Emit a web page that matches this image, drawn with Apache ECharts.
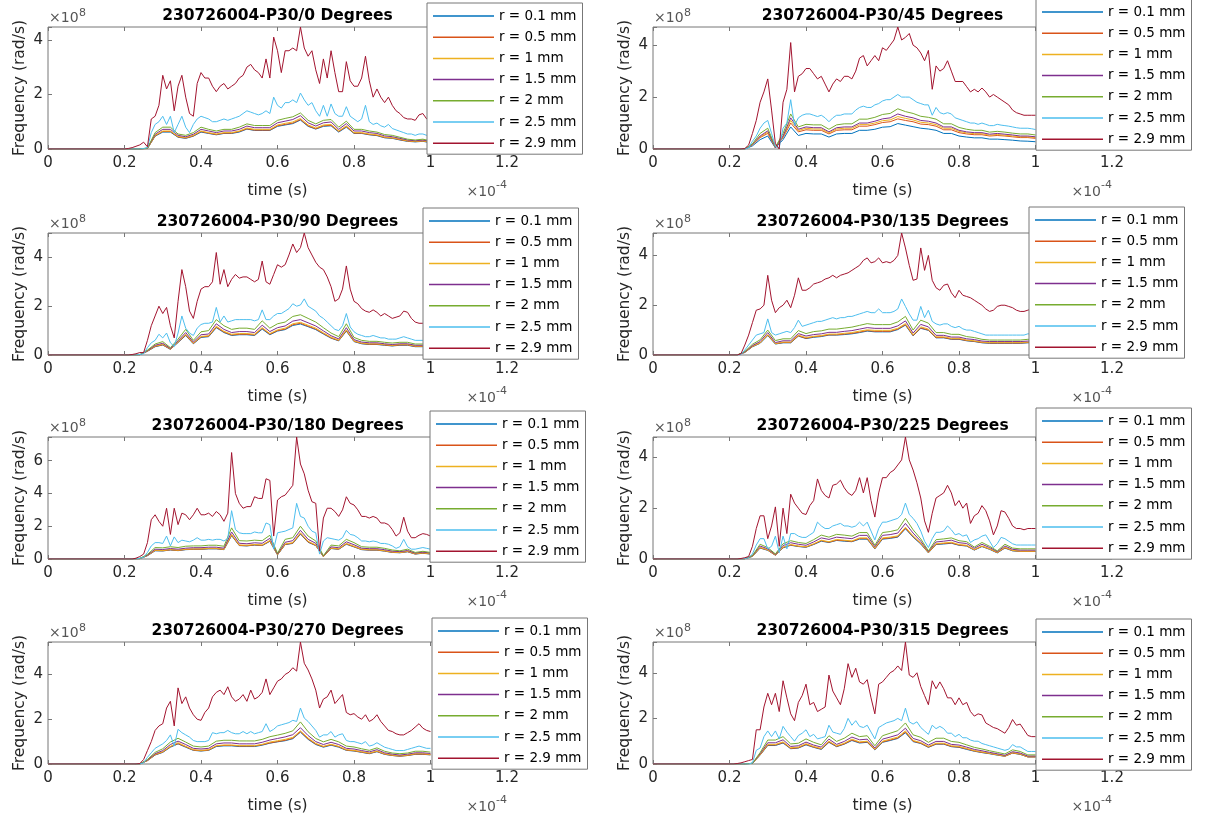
<!DOCTYPE html>
<html>
<head>
<meta charset="utf-8">
<title>230726004-P30 frequency vs time</title>
<script src="https://cdn.jsdelivr.net/npm/echarts@6.0.0/dist/echarts.min.js"></script>
<style>
  html, body { margin: 0; padding: 0; background: #fff; }
  #chart { width: 1215px; height: 820px; }
</style>
</head>
<body>
<div id="chart"></div>
<script>
// time in units of 1e-4 s
const TIME_FINE = [0,
  0.20, 0.21, 0.22, 0.23, 0.24, 0.25, 0.26, 0.27, 0.28, 0.29,
  0.30, 0.31, 0.32, 0.33, 0.34, 0.35, 0.36, 0.37, 0.38, 0.39,
  0.40, 0.41, 0.42, 0.43, 0.44, 0.45, 0.46, 0.47, 0.48, 0.49,
  0.50, 0.51, 0.52, 0.53, 0.54, 0.55, 0.56, 0.57, 0.58, 0.59,
  0.60, 0.61, 0.62, 0.63, 0.64, 0.65, 0.66, 0.67, 0.68, 0.69,
  0.70, 0.71, 0.72, 0.73, 0.74, 0.75, 0.76, 0.77, 0.78, 0.79,
  0.80, 0.81, 0.82, 0.83, 0.84, 0.85, 0.86, 0.87, 0.88, 0.89,
  0.90, 0.91, 0.92, 0.93, 0.94, 0.95, 0.96, 0.97, 0.98, 0.99,
  1.00];
const TIME_COARSE = [0,
  0.20, 0.22, 0.24, 0.26, 0.28,
  0.30, 0.32, 0.34, 0.36, 0.38,
  0.40, 0.42, 0.44, 0.46, 0.48,
  0.50, 0.52, 0.54, 0.56, 0.58,
  0.60, 0.62, 0.64, 0.66, 0.68,
  0.70, 0.72, 0.74, 0.76, 0.78,
  0.80, 0.82, 0.84, 0.86, 0.88,
  0.90, 0.92, 0.94, 0.96, 0.98,
  1.00];

const RADII = ['r = 0.1 mm', 'r = 0.5 mm', 'r = 1 mm', 'r = 1.5 mm', 'r = 2 mm', 'r = 2.5 mm', 'r = 2.9 mm'];
const COLORS = ['#0072BD', '#D95319', '#EDB120', '#7E2F8E', '#77AC30', '#4DBEEE', '#A2142F'];
const ANGLES = [0, 45, 90, 135, 180, 225, 270, 315];
const Y_MAX = [4.47, 4.7, 5.0, 4.9, 7.45, 4.8, 5.45, 5.35];   // x 1e8 rad/s
const X_MAX = 1.2;

// ---- 0 degrees ----
const RED_0 = [0,
  0, 0.02, 0.05, 0.1, 0.15, 0.25, 0.08, 1.1, 1.2, 1.6,
  2.7, 2.2, 2.5, 1.4, 2.3, 2.7, 1.9, 1.3, 1.2, 2.4,
  2.8, 2.6, 2.6, 2.3, 2.1, 2.3, 2.4, 2.2, 2.3, 2.4,
  2.6, 2.7, 3.0, 3.1, 2.9, 2.8, 2.6, 3.3, 2.6, 4.1,
  3.6, 2.8, 3.6, 3.6, 3.7, 3.6, 4.47, 3.7, 3.4, 3.6,
  2.9, 2.4, 3.3, 2.6, 3.6, 2.8, 2.1, 2.1, 3.2, 2.5,
  2.3, 2.3, 2.6, 3.4, 2.5, 1.9, 2.2, 1.9, 1.7, 1.9,
  1.6, 1.4, 1.3, 1.15, 1.1, 1.1, 1.05, 1.25, 1.3, 1.1,
  1.0];
const CYAN_0 = [0,
  0, 0, 0, 0, 0, 0.02, 0.05, 0.6, 0.9, 1.0,
  1.2, 0.9, 1.2, 0.6, 0.9, 1.2, 0.8, 0.6, 0.9, 1.1,
  1.2, 1.15, 1.1, 1.0, 1.0, 1.05, 1.1, 1.05, 1.1, 1.15,
  1.2, 1.3, 1.4, 1.35, 1.3, 1.25, 1.3, 1.4, 1.3, 1.9,
  1.6, 1.5, 1.7, 1.7, 1.8, 1.7, 2.05, 1.8, 1.6, 1.7,
  1.4, 1.2, 1.6, 1.2, 1.65, 1.3, 1.2, 1.2, 1.55, 1.2,
  1.1, 1.0, 1.1, 1.6, 1.0, 0.9, 0.95, 0.85, 0.8, 0.9,
  0.75, 0.7, 0.65, 0.6, 0.55, 0.55, 0.5, 0.55, 0.55, 0.5,
  0.45];
const GREEN_0 = [0,
  0, 0, 0, 0.03, 0.6,
  0.8, 0.8, 0.55, 0.5, 0.6,
  0.8, 0.72, 0.66, 0.72, 0.72,
  0.8, 0.92, 0.86, 0.86, 0.86,
  1.05, 1.12, 1.18, 1.32, 1.05,
  0.92, 1.05, 1.08, 0.8, 1.02,
  0.72, 0.72, 0.66, 0.62, 0.53,
  0.5, 0.43, 0.36, 0.33, 0.36,
  0.3];
const PURPLE_0 = [0,
  0, 0, 0, 0.03, 0.54,
  0.72, 0.72, 0.5, 0.45, 0.54,
  0.72, 0.66, 0.6, 0.66, 0.66,
  0.72, 0.84, 0.78, 0.78, 0.78,
  0.96, 1.02, 1.08, 1.22, 0.96,
  0.84, 0.96, 0.99, 0.72, 0.93,
  0.66, 0.66, 0.6, 0.57, 0.48,
  0.45, 0.39, 0.33, 0.3, 0.33,
  0.27];
const YELLOW_0 = [0,
  0, 0, 0, 0.02, 0.5,
  0.66, 0.66, 0.46, 0.42, 0.5,
  0.66, 0.6, 0.55, 0.6, 0.6,
  0.66, 0.77, 0.72, 0.72, 0.72,
  0.88, 0.94, 0.99, 1.12, 0.88,
  0.77, 0.88, 0.9, 0.66, 0.85,
  0.6, 0.6, 0.55, 0.52, 0.44,
  0.41, 0.36, 0.3, 0.28, 0.3,
  0.25];
const ORANGE_0 = [0,
  0, 0, 0, 0.02, 0.48,
  0.64, 0.64, 0.44, 0.4, 0.48,
  0.64, 0.58, 0.53, 0.58, 0.58,
  0.64, 0.74, 0.69, 0.69, 0.69,
  0.85, 0.9, 0.95, 1.08, 0.85,
  0.74, 0.85, 0.87, 0.64, 0.82,
  0.58, 0.58, 0.53, 0.5, 0.42,
  0.4, 0.34, 0.29, 0.27, 0.29,
  0.24];
const BLUE_0 = [0,
  0, 0, 0, 0.02, 0.47,
  0.62, 0.62, 0.43, 0.39, 0.47,
  0.62, 0.57, 0.52, 0.57, 0.57,
  0.62, 0.73, 0.68, 0.68, 0.68,
  0.83, 0.88, 0.93, 1.06, 0.83,
  0.73, 0.83, 0.85, 0.62, 0.8,
  0.57, 0.57, 0.52, 0.49, 0.41,
  0.39, 0.33, 0.28, 0.26, 0.28,
  0.23];

// ---- 45 degrees ----
const RED_45 = [0,
  0, 0, 0, 0, 0.02, 0.15, 0.6, 1.1, 1.8, 2.2,
  2.7, 1.5, 0.2, 0.0, 1.8, 2.3, 4.1, 2.2, 2.8, 2.9,
  3.1, 3.1, 2.9, 2.7, 2.8, 2.5, 2.2, 2.5, 2.7, 2.6,
  2.8, 2.8, 2.7, 3.0, 3.5, 3.6, 3.2, 3.4, 3.6, 3.4,
  3.9, 3.8, 4.0, 4.2, 4.7, 4.2, 4.3, 4.45, 4.0, 3.9,
  3.7, 3.4, 3.8, 2.3, 3.2, 3.0, 3.1, 3.4, 3.0, 2.6,
  2.6, 2.6, 2.4, 2.2, 2.3, 2.2, 2.35, 2.2, 2.0, 2.1,
  2.0, 1.9, 1.8, 1.7, 1.5, 1.4, 1.35, 1.3, 1.3, 1.3,
  1.3];
const CYAN_45 = [0,
  0, 0, 0, 0, 0, 0.05, 0.3, 0.5, 0.8, 1.0,
  1.1, 0.6, 0.1, 0.05, 0.8, 1.0, 1.9, 0.9, 1.2, 1.3,
  1.35, 1.35, 1.3, 1.25, 1.3, 1.2, 1.05, 1.2, 1.3, 1.3,
  1.35, 1.35, 1.35, 1.5, 1.6, 1.65, 1.6, 1.6, 1.7, 1.75,
  1.85, 1.9, 1.9, 2.0, 2.1, 2.0, 2.0, 2.0, 1.9, 1.8,
  1.75, 1.7, 1.7, 1.3, 1.6, 1.4, 1.35, 1.4, 1.35, 1.2,
  1.15, 1.1, 1.05, 1.0, 1.0, 0.95, 1.0, 0.95, 0.9, 0.9,
  0.95, 0.92, 0.9, 0.88, 0.85, 0.82, 0.8, 0.8, 0.8, 0.78,
  0.75];
const GREEN_45 = [0,
  0, 0, 0, 0.2, 0.6,
  0.8, 0.08, 0.6, 1.35, 0.85,
  0.95, 0.93, 0.93, 0.76, 0.93,
  0.97, 0.97, 1.15, 1.15, 1.22,
  1.33, 1.37, 1.55, 1.44, 1.37,
  1.26, 1.22, 1.15, 0.97, 0.97,
  0.83, 0.76, 0.72, 0.72, 0.65,
  0.68, 0.65, 0.61, 0.58, 0.58,
  0.54];
const PURPLE_45 = [0,
  0, 0, 0, 0.18, 0.5,
  0.7, 0.06, 0.5, 1.2, 0.76,
  0.85, 0.82, 0.82, 0.66, 0.82,
  0.85, 0.85, 1.0, 1.0, 1.07,
  1.16, 1.2, 1.35, 1.26, 1.2,
  1.1, 1.07, 1.0, 0.85, 0.85,
  0.72, 0.66, 0.63, 0.63, 0.57,
  0.6, 0.57, 0.54, 0.5, 0.5,
  0.47];
const YELLOW_45 = [0,
  0, 0, 0, 0.17, 0.47,
  0.65, 0.06, 0.47, 1.1, 0.71,
  0.8, 0.77, 0.77, 0.62, 0.77,
  0.8, 0.8, 0.94, 0.94, 1.0,
  1.09, 1.12, 1.25, 1.18, 1.12,
  1.03, 1.0, 0.94, 0.8, 0.8,
  0.68, 0.62, 0.59, 0.59, 0.53,
  0.56, 0.53, 0.5, 0.47, 0.47,
  0.44];
const ORANGE_45 = [0,
  0, 0, 0, 0.16, 0.44,
  0.6, 0.05, 0.44, 1.0, 0.66,
  0.74, 0.72, 0.72, 0.58, 0.72,
  0.74, 0.74, 0.88, 0.88, 0.94,
  1.02, 1.05, 1.16, 1.1, 1.05,
  0.96, 0.94, 0.88, 0.74, 0.74,
  0.63, 0.58, 0.55, 0.55, 0.5,
  0.52, 0.5, 0.47, 0.44, 0.44,
  0.41];
const BLUE_45 = [0,
  0, 0, 0, 0.12, 0.36,
  0.5, 0.04, 0.36, 0.85, 0.52,
  0.6, 0.58, 0.58, 0.46, 0.58,
  0.6, 0.6, 0.72, 0.72, 0.76,
  0.84, 0.86, 0.98, 0.92, 0.86,
  0.8, 0.77, 0.72, 0.6, 0.6,
  0.5, 0.46, 0.43, 0.43, 0.38,
  0.38, 0.36, 0.34, 0.31, 0.3,
  0.28];

// ---- 90 degrees ----
const RED_90 = [0,
  0, 0, 0.02, 0.05, 0.1, 0.1, 0.6, 1.2, 1.6, 2.0,
  1.7, 1.95, 1.2, 0.7, 2.2, 3.5, 2.8, 1.8, 1.5, 2.2,
  2.7, 2.8, 2.8, 3.0, 4.2, 2.9, 3.5, 2.8, 3.1, 3.3,
  3.15, 3.2, 3.2, 3.1, 3.0, 3.1, 3.85, 3.0, 2.9, 3.3,
  3.7, 3.6, 3.7, 4.1, 4.55, 4.2, 4.4, 5.0, 4.4, 4.1,
  3.8, 3.6, 3.5, 3.2, 2.8, 2.2, 2.3, 2.7, 3.65, 2.7,
  2.2, 2.1, 1.9, 1.8, 1.75, 1.85, 1.75, 1.6, 1.7, 1.6,
  1.5, 1.55, 1.6, 1.8, 1.75, 1.5, 1.35, 1.3, 1.3, 1.3,
  1.25];
const CYAN_90 = [0,
  0, 0, 0, 0, 0.02, 0.05, 0.3, 0.5, 0.6, 0.85,
  0.7, 0.9, 0.5, 0.35, 0.9, 1.6, 1.1, 0.9, 0.8, 1.1,
  1.25, 1.3, 1.3, 1.35, 1.95, 1.35, 1.6, 1.35, 1.4, 1.45,
  1.45, 1.45, 1.45, 1.45, 1.4, 1.45, 1.85, 1.45, 1.45, 1.6,
  1.7, 1.7, 1.8, 1.9, 2.1, 2.0, 2.05, 2.3, 2.0, 1.9,
  1.8, 1.6, 1.5, 1.35, 1.2, 1.05, 1.0, 1.2, 1.7, 1.15,
  0.95, 0.85, 0.8, 0.75, 0.75, 0.8, 0.75, 0.7, 0.7, 0.65,
  0.65, 0.65, 0.7, 0.75, 0.7, 0.65, 0.6, 0.6, 0.6, 0.6,
  0.6];
const GREEN_90 = [0,
  0, 0, 0.01, 0.2, 0.45,
  0.55, 0.3, 0.65, 1.05, 0.6,
  0.95, 1.0, 1.45, 1.2, 1.05,
  1.1, 1.1, 1.05, 1.4, 1.1,
  1.28, 1.35, 1.58, 1.65, 1.5,
  1.35, 1.12, 0.9, 0.75, 1.28,
  0.72, 0.6, 0.56, 0.56, 0.52,
  0.49, 0.52, 0.52, 0.45, 0.45,
  0.45];
const PURPLE_90 = [0,
  0, 0, 0.01, 0.18, 0.4,
  0.48, 0.27, 0.58, 0.92, 0.53,
  0.83, 0.86, 1.28, 1.05, 0.92,
  0.96, 0.96, 0.92, 1.22, 0.96,
  1.12, 1.19, 1.39, 1.45, 1.32,
  1.19, 0.99, 0.79, 0.66, 1.12,
  0.63, 0.53, 0.5, 0.5, 0.46,
  0.43, 0.46, 0.46, 0.4, 0.4,
  0.4];
const YELLOW_90 = [0,
  0, 0, 0.01, 0.17, 0.37,
  0.44, 0.25, 0.54, 0.85, 0.49,
  0.76, 0.79, 1.18, 0.97, 0.85,
  0.88, 0.88, 0.85, 1.12, 0.88,
  1.03, 1.1, 1.28, 1.34, 1.22,
  1.1, 0.91, 0.73, 0.61, 1.03,
  0.58, 0.49, 0.46, 0.46, 0.43,
  0.4, 0.43, 0.43, 0.37, 0.37,
  0.37];
const ORANGE_90 = [0,
  0, 0, 0.01, 0.16, 0.35,
  0.42, 0.24, 0.52, 0.82, 0.47,
  0.74, 0.77, 1.14, 0.94, 0.82,
  0.85, 0.85, 0.82, 1.09, 0.85,
  1.0, 1.06, 1.24, 1.3, 1.18,
  1.06, 0.88, 0.7, 0.59, 1.0,
  0.56, 0.47, 0.44, 0.44, 0.41,
  0.38, 0.41, 0.41, 0.35, 0.35,
  0.35];
const BLUE_90 = [0,
  0, 0, 0.01, 0.15, 0.34,
  0.41, 0.23, 0.51, 0.8, 0.46,
  0.72, 0.75, 1.12, 0.92, 0.8,
  0.83, 0.83, 0.8, 1.06, 0.83,
  0.98, 1.04, 1.21, 1.27, 1.16,
  1.04, 0.86, 0.69, 0.58, 0.98,
  0.55, 0.46, 0.43, 0.43, 0.4,
  0.37, 0.4, 0.4, 0.34, 0.34,
  0.34];

// ---- 135 degrees ----
const RED_135 = [0,
  0, 0, 0, 0.05, 0.4, 0.8, 1.3, 1.8, 1.85, 2.0,
  3.2, 2.2, 1.7, 1.9, 2.0, 2.2, 1.9, 2.4, 3.1, 2.6,
  2.6, 2.7, 2.85, 2.9, 2.95, 3.05, 3.1, 3.2, 3.1, 3.2,
  3.25, 3.3, 3.4, 3.5, 3.6, 3.8, 3.9, 3.7, 3.75, 3.9,
  3.7, 3.75, 3.7, 3.8, 4.0, 4.9, 4.3, 3.6, 3.0, 3.05,
  4.3, 3.4, 4.0, 3.0, 2.7, 2.6, 2.8, 2.85, 2.5, 2.3,
  2.6, 2.4, 2.35, 2.3, 2.2, 2.1, 2.0, 1.85, 1.75, 1.8,
  1.95, 2.0, 2.0, 1.95, 1.9, 1.8, 1.75, 1.75, 1.8, 1.85,
  1.85];
const CYAN_135 = [0,
  0, 0, 0, 0.02, 0.2, 0.4, 0.6, 0.8, 0.85, 0.9,
  1.45, 0.9, 0.8, 0.85, 0.9, 0.95, 0.9, 1.1, 1.4, 1.15,
  1.2, 1.25, 1.3, 1.35, 1.35, 1.4, 1.45, 1.5, 1.45, 1.5,
  1.5, 1.55, 1.55, 1.6, 1.65, 1.7, 1.75, 1.7, 1.7, 1.85,
  1.7, 1.7, 1.7, 1.75, 1.85, 2.25, 1.95, 1.65, 1.4, 1.4,
  1.95, 1.5, 1.8, 1.35, 1.25, 1.2, 1.25, 1.25, 1.15, 1.1,
  1.15, 1.05, 1.0, 1.0, 0.95, 0.9, 0.85, 0.8, 0.8, 0.8,
  0.8, 0.8, 0.8, 0.8, 0.8, 0.8, 0.8, 0.8, 0.85, 0.85,
  0.85];
const GREEN_135 = [0,
  0, 0, 0.14, 0.43, 0.61,
  1.0, 0.58, 0.65, 0.65, 0.98,
  0.86, 0.94, 0.97, 1.04, 1.04,
  1.08, 1.12, 1.19, 1.26, 1.22,
  1.22, 1.22, 1.33, 1.55, 1.0,
  1.4, 1.28, 0.9, 0.9, 0.83,
  0.83, 0.74, 0.7, 0.63, 0.6,
  0.6, 0.6, 0.6, 0.6, 0.63,
  0.63];
const PURPLE_135 = [0,
  0, 0, 0.12, 0.38, 0.54,
  0.9, 0.5, 0.57, 0.57, 0.86,
  0.76, 0.82, 0.85, 0.91, 0.91,
  0.95, 0.98, 1.04, 1.1, 1.07,
  1.07, 1.07, 1.17, 1.37, 0.88,
  1.23, 1.13, 0.79, 0.79, 0.72,
  0.72, 0.65, 0.62, 0.56, 0.54,
  0.54, 0.54, 0.54, 0.54, 0.56,
  0.56];
const YELLOW_135 = [0,
  0, 0, 0.11, 0.35, 0.49,
  0.82, 0.46, 0.52, 0.52, 0.8,
  0.7, 0.75, 0.78, 0.84, 0.84,
  0.87, 0.9, 0.96, 1.01, 0.99,
  0.99, 0.99, 1.07, 1.26, 0.81,
  1.13, 1.04, 0.73, 0.73, 0.67,
  0.67, 0.6, 0.57, 0.52, 0.5,
  0.5, 0.5, 0.5, 0.5, 0.52,
  0.52];
const ORANGE_135 = [0,
  0, 0, 0.11, 0.34, 0.48,
  0.8, 0.45, 0.5, 0.5, 0.77,
  0.67, 0.73, 0.76, 0.81, 0.81,
  0.84, 0.87, 0.92, 0.98, 0.95,
  0.95, 0.95, 1.04, 1.22, 0.78,
  1.09, 1.0, 0.7, 0.7, 0.64,
  0.64, 0.58, 0.55, 0.5, 0.48,
  0.48, 0.48, 0.48, 0.48, 0.5,
  0.5];
const BLUE_135 = [0,
  0, 0, 0.1, 0.33, 0.47,
  0.78, 0.44, 0.49, 0.49, 0.76,
  0.66, 0.71, 0.74, 0.8, 0.8,
  0.82, 0.85, 0.9, 0.96, 0.93,
  0.93, 0.93, 1.02, 1.2, 0.77,
  1.07, 0.99, 0.69, 0.69, 0.63,
  0.63, 0.57, 0.54, 0.49, 0.47,
  0.47, 0.47, 0.47, 0.47, 0.49,
  0.49];

// ---- 180 degrees ----
const RED_180 = [0,
  0, 0, 0, 0.05, 0.15, 0.3, 1.0, 2.4, 2.7, 2.3,
  2.0, 3.1, 1.5, 3.1, 2.1, 2.8, 2.7, 2.4, 2.7, 3.1,
  2.7, 2.7, 2.8, 2.6, 2.9, 2.7, 2.3, 2.8, 6.5, 4.0,
  3.4, 3.1, 3.2, 3.2, 3.8, 3.7, 3.7, 4.9, 4.8, 1.4,
  3.6, 3.8, 3.9, 4.2, 4.5, 7.45, 5.8, 5.2, 4.2, 3.5,
  3.4, 0.5, 2.5, 3.1, 3.1, 2.9, 2.6, 3.0, 3.8, 3.4,
  3.3, 3.0, 2.6, 2.6, 2.5, 2.6, 2.5, 2.2, 2.2, 2.1,
  1.8, 1.4, 1.6, 2.55, 1.7, 1.3, 1.3, 1.45, 1.55, 1.5,
  1.4];
const CYAN_180 = [0,
  0, 0, 0, 0, 0.05, 0.1, 0.4, 0.8, 1.0, 1.0,
  0.95, 1.4, 0.8, 1.35, 1.0, 1.15, 1.1, 1.05, 1.15, 1.3,
  1.15, 1.15, 1.2, 1.15, 1.2, 1.2, 1.1, 1.25, 2.95, 1.8,
  1.6, 1.55, 1.55, 1.55, 1.65, 1.6, 1.6, 2.2, 2.1, 0.6,
  1.6, 1.65, 1.7, 1.8, 1.9, 3.4, 2.6, 2.5, 2.0, 1.7,
  1.6, 0.3, 1.1, 1.3, 1.25, 1.2, 1.15, 1.3, 1.75, 1.5,
  1.45, 1.3, 1.1, 1.1, 1.05, 1.1, 1.05, 0.95, 0.95, 0.9,
  0.8, 0.65, 0.75, 1.2, 0.75, 0.6, 0.6, 0.65, 0.7, 0.65,
  0.6];
const GREEN_180 = [0,
  0, 0, 0.03, 0.28, 0.7,
  0.68, 0.75, 0.7, 0.78, 0.8,
  0.8, 0.84, 0.84, 0.78, 1.9,
  1.12, 1.1, 1.15, 1.12, 1.45,
  0.35, 1.2, 1.3, 2.0, 1.4,
  1.1, 0.2, 0.85, 0.8, 1.2,
  1.0, 0.75, 0.72, 0.72, 0.65,
  0.55, 0.5, 0.6, 0.4, 0.47,
  0.4];
const PURPLE_180 = [0,
  0, 0, 0.03, 0.24, 0.6,
  0.58, 0.64, 0.6, 0.66, 0.69,
  0.69, 0.72, 0.72, 0.66, 1.65,
  0.96, 0.93, 0.99, 0.96, 1.26,
  0.3, 1.02, 1.12, 1.75, 1.2,
  0.96, 0.18, 0.74, 0.69, 1.05,
  0.87, 0.66, 0.63, 0.63, 0.57,
  0.48, 0.45, 0.52, 0.36, 0.42,
  0.36];
const YELLOW_180 = [0,
  0, 0, 0.02, 0.22, 0.54,
  0.52, 0.58, 0.54, 0.6, 0.62,
  0.62, 0.65, 0.65, 0.6, 1.5,
  0.86, 0.84, 0.89, 0.86, 1.13,
  0.27, 0.92, 1.0, 1.6, 1.08,
  0.86, 0.16, 0.67, 0.62, 0.95,
  0.78, 0.6, 0.57, 0.57, 0.51,
  0.43, 0.4, 0.47, 0.32, 0.38,
  0.32];
const ORANGE_180 = [0,
  0, 0, 0.02, 0.21, 0.52,
  0.5, 0.56, 0.52, 0.58, 0.6,
  0.6, 0.63, 0.63, 0.58, 1.46,
  0.83, 0.81, 0.86, 0.83, 1.1,
  0.26, 0.89, 0.97, 1.55, 1.04,
  0.83, 0.15, 0.65, 0.6, 0.92,
  0.75, 0.58, 0.55, 0.55, 0.49,
  0.41, 0.39, 0.45, 0.31, 0.36,
  0.31];
const BLUE_180 = [0,
  0, 0, 0.02, 0.2, 0.5,
  0.49, 0.55, 0.51, 0.57, 0.59,
  0.59, 0.62, 0.62, 0.57, 1.43,
  0.82, 0.8, 0.85, 0.82, 1.08,
  0.25, 0.88, 0.95, 1.52, 1.02,
  0.82, 0.14, 0.64, 0.59, 0.9,
  0.74, 0.57, 0.54, 0.54, 0.48,
  0.4, 0.38, 0.44, 0.3, 0.35,
  0.3];

// ---- 225 degrees ----
const RED_225 = [0,
  0, 0, 0, 0.02, 0.05, 0.1, 0.5, 1.2, 1.7, 1.7,
  0.8, 1.3, 2.05, 0.5, 2.0, 1.0, 2.55, 2.2, 2.0, 1.8,
  1.75, 2.1, 2.3, 3.15, 2.7, 2.5, 2.4, 2.9, 2.95, 3.1,
  2.8, 2.6, 2.5, 2.7, 3.2, 2.6, 3.2, 2.3, 1.65, 2.6,
  3.2, 3.2, 3.4, 3.5, 3.7, 3.9, 4.8, 3.9, 3.5, 3.0,
  2.4, 1.5, 1.05, 1.8, 2.4, 2.5, 2.6, 2.9, 2.6, 2.1,
  2.3, 2.0, 2.2, 1.4, 1.7, 1.8, 2.1, 1.9, 1.5, 0.95,
  1.3, 1.9, 1.85, 1.6, 1.3, 1.2, 1.2, 1.15, 1.2, 1.2,
  1.2];
const CYAN_225 = [0,
  0, 0, 0, 0, 0.02, 0.05, 0.2, 0.55, 0.8, 0.8,
  0.4, 0.5, 0.9, 0.25, 0.9, 0.4, 1.0, 1.0, 0.9, 0.85,
  0.85, 0.95, 1.05, 1.45, 1.3, 1.2, 1.2, 1.3, 1.35, 1.4,
  1.3, 1.3, 1.25, 1.3, 1.45, 1.3, 1.45, 1.1, 0.75, 1.2,
  1.45, 1.45, 1.5, 1.55, 1.6, 1.75, 2.2, 1.75, 1.6, 1.4,
  1.1, 0.7, 0.45, 0.8, 1.05, 1.05, 1.1, 1.3, 1.15, 0.95,
  1.0, 0.9, 0.95, 0.65, 0.75, 0.8, 0.9, 0.95, 0.7, 0.45,
  0.6, 0.85, 0.8, 0.7, 0.6, 0.55, 0.55, 0.55, 0.55, 0.55,
  0.55];
const GREEN_225 = [0,
  0, 0, 0.01, 0.14, 0.58,
  0.45, 0.2, 0.6, 0.72, 0.65,
  0.61, 0.76, 0.94, 0.86, 0.97,
  0.94, 0.9, 1.04, 1.04, 0.54,
  1.04, 1.08, 1.15, 1.6, 1.15,
  0.79, 0.32, 0.76, 0.79, 0.83,
  0.72, 0.68, 0.47, 0.65, 0.5,
  0.32, 0.58, 0.43, 0.4, 0.4,
  0.4];
const PURPLE_225 = [0,
  0, 0, 0.01, 0.13, 0.51,
  0.4, 0.18, 0.53, 0.64, 0.58,
  0.54, 0.67, 0.83, 0.77, 0.86,
  0.83, 0.8, 0.93, 0.93, 0.48,
  0.93, 0.96, 1.02, 1.4, 1.02,
  0.7, 0.29, 0.67, 0.7, 0.74,
  0.64, 0.61, 0.42, 0.58, 0.45,
  0.29, 0.51, 0.38, 0.35, 0.35,
  0.35];
const YELLOW_225 = [0,
  0, 0, 0.01, 0.11, 0.46,
  0.36, 0.16, 0.47, 0.57, 0.51,
  0.48, 0.6, 0.74, 0.68, 0.77,
  0.74, 0.71, 0.83, 0.83, 0.43,
  0.83, 0.86, 0.91, 1.25, 0.91,
  0.63, 0.26, 0.6, 0.63, 0.66,
  0.57, 0.54, 0.37, 0.51, 0.4,
  0.26, 0.46, 0.34, 0.31, 0.31,
  0.31];
const ORANGE_225 = [0,
  0, 0, 0.01, 0.11, 0.44,
  0.35, 0.15, 0.45, 0.55, 0.5,
  0.47, 0.58, 0.72, 0.66, 0.74,
  0.72, 0.69, 0.8, 0.8, 0.41,
  0.8, 0.83, 0.88, 1.21, 0.88,
  0.61, 0.25, 0.58, 0.61, 0.63,
  0.55, 0.52, 0.36, 0.5, 0.39,
  0.25, 0.44, 0.33, 0.3, 0.3,
  0.3];
const BLUE_225 = [0,
  0, 0, 0.01, 0.1, 0.43,
  0.34, 0.15, 0.44, 0.54, 0.49,
  0.46, 0.57, 0.7, 0.65, 0.73,
  0.7, 0.68, 0.78, 0.78, 0.4,
  0.78, 0.81, 0.86, 1.19, 0.86,
  0.59, 0.24, 0.57, 0.59, 0.62,
  0.54, 0.51, 0.35, 0.49, 0.38,
  0.24, 0.43, 0.32, 0.3, 0.3,
  0.3];

// ---- 270 degrees ----
const RED_270 = [0,
  0, 0, 0, 0, 0.02, 0.2, 0.6, 1.0, 1.5, 1.7,
  1.8, 2.5, 2.8, 1.7, 3.4, 2.7, 3.0, 2.5, 2.2, 2.0,
  1.95, 2.3, 2.5, 3.0, 3.2, 3.3, 3.1, 3.45, 3.0, 2.8,
  2.9, 3.1, 2.8, 3.3, 2.9, 3.0, 3.2, 3.8, 3.1, 3.4,
  3.7, 3.8, 4.0, 4.1, 4.3, 4.15, 5.45, 4.5, 4.2, 3.8,
  3.3, 2.5, 2.9, 3.0, 3.3, 2.7, 2.9, 3.1, 2.3, 2.2,
  2.25, 2.1, 2.0, 2.2, 1.9, 2.0, 2.2, 1.9, 1.7, 1.5,
  1.45, 1.35, 1.3, 1.3, 1.4, 1.5, 1.65, 1.8, 1.6, 1.5,
  1.45];
const CYAN_270 = [0,
  0, 0, 0, 0, 0, 0.05, 0.3, 0.5, 0.7, 0.8,
  0.9, 1.05, 1.3, 0.8, 1.55, 1.4, 1.3, 1.2, 1.05, 1.0,
  1.0, 1.0, 1.05, 1.4, 1.35, 1.4, 1.4, 1.5, 1.4, 1.35,
  1.35, 1.45, 1.35, 1.45, 1.35, 1.4, 1.45, 1.8, 1.45, 1.55,
  1.7, 1.75, 1.8, 1.85, 1.95, 1.9, 2.5, 2.05, 1.9, 1.7,
  1.5, 1.2, 1.3, 1.3, 1.45, 1.2, 1.3, 1.35, 1.05, 1.0,
  1.0, 0.95, 0.9, 1.0, 0.8, 0.85, 0.95, 0.85, 0.75, 0.7,
  0.65, 0.6, 0.6, 0.6, 0.65, 0.7, 0.75, 0.8, 0.75, 0.7,
  0.7];
const GREEN_270 = [0,
  0, 0, 0, 0.2, 0.52,
  0.68, 0.98, 1.15, 0.98, 0.8,
  0.76, 0.8, 1.02, 1.06, 1.06,
  1.03, 1.03, 1.03, 1.1, 1.22,
  1.29, 1.37, 1.48, 1.88, 1.44,
  1.14, 0.99, 1.1, 0.99, 0.8,
  0.76, 0.68, 0.61, 0.72, 0.57,
  0.49, 0.46, 0.49, 0.57, 0.57,
  0.53];
const PURPLE_270 = [0,
  0, 0, 0, 0.18, 0.46,
  0.6, 0.87, 1.02, 0.87, 0.7,
  0.67, 0.7, 0.9, 0.94, 0.94,
  0.9, 0.9, 0.9, 0.97, 1.07,
  1.14, 1.21, 1.31, 1.62, 1.27,
  1.0, 0.87, 0.97, 0.87, 0.7,
  0.67, 0.6, 0.54, 0.64, 0.5,
  0.44, 0.4, 0.44, 0.5, 0.5,
  0.47];
const YELLOW_270 = [0,
  0, 0, 0, 0.16, 0.43,
  0.55, 0.79, 0.95, 0.79, 0.64,
  0.61, 0.64, 0.82, 0.85, 0.85,
  0.82, 0.82, 0.82, 0.88, 0.98,
  1.04, 1.1, 1.19, 1.48, 1.16,
  0.92, 0.79, 0.88, 0.79, 0.64,
  0.61, 0.55, 0.49, 0.58, 0.46,
  0.4, 0.37, 0.4, 0.46, 0.46,
  0.43];
const ORANGE_270 = [0,
  0, 0, 0, 0.15, 0.41,
  0.53, 0.77, 0.91, 0.77, 0.62,
  0.59, 0.62, 0.8, 0.83, 0.83,
  0.8, 0.8, 0.8, 0.86, 0.94,
  1.0, 1.06, 1.15, 1.44, 1.12,
  0.89, 0.77, 0.86, 0.77, 0.62,
  0.59, 0.53, 0.47, 0.56, 0.44,
  0.38, 0.35, 0.38, 0.44, 0.44,
  0.41];
const BLUE_270 = [0,
  0, 0, 0, 0.15, 0.4,
  0.52, 0.75, 0.9, 0.75, 0.61,
  0.58, 0.61, 0.78, 0.81, 0.81,
  0.78, 0.78, 0.78, 0.84, 0.93,
  0.99, 1.04, 1.13, 1.42, 1.1,
  0.87, 0.75, 0.84, 0.75, 0.61,
  0.58, 0.52, 0.46, 0.55, 0.43,
  0.38, 0.35, 0.38, 0.43, 0.43,
  0.41];

// ---- 315 degrees ----
const RED_315 = [0,
  0, 0, 0.02, 0.05, 0.1, 0.15, 0.2, 1.5, 1.5, 2.5,
  3.1, 2.6, 3.1, 2.3, 3.65, 2.9, 2.2, 1.9, 2.7, 3.0,
  3.5, 2.6, 2.7, 2.3, 2.4, 2.5, 3.9, 3.2, 2.9, 2.6,
  3.3, 4.4, 3.8, 4.2, 3.6, 3.5, 3.7, 2.9, 2.2, 3.5,
  3.6, 3.8, 4.0, 4.1, 4.3, 4.1, 5.35, 3.9, 3.8, 4.0,
  3.4, 3.0, 2.6, 3.65, 3.3, 3.6, 3.3, 2.9, 2.9, 2.6,
  2.9, 2.6, 2.7, 2.3, 2.1, 2.2, 2.15, 1.8, 1.7, 1.6,
  1.55, 1.45, 1.35, 1.6, 1.95, 1.7, 1.75, 1.5, 1.25, 1.2,
  1.2];
const CYAN_315 = [0,
  0, 0, 0, 0, 0, 0, 0.05, 0.6, 0.7, 1.2,
  1.45, 1.2, 1.45, 1.1, 1.65, 1.4, 1.2, 1.0, 1.25, 1.35,
  1.5, 1.2, 1.3, 1.1, 1.15, 1.2, 1.7, 1.4, 1.35, 1.3,
  1.55, 2.0, 1.7, 1.9, 1.65, 1.6, 1.7, 1.4, 1.1, 1.6,
  1.7, 1.8, 1.85, 1.9, 2.0, 1.9, 2.45, 1.85, 1.75, 1.85,
  1.6, 1.45, 1.3, 1.7, 1.55, 1.65, 1.55, 1.35, 1.35, 1.2,
  1.3, 1.15, 1.15, 1.05, 1.0, 1.0, 0.9, 0.85, 0.8, 0.75,
  0.7, 0.65, 0.6, 0.65, 0.85, 0.75, 0.75, 0.65, 0.55, 0.55,
  0.55];
const GREEN_315 = [0,
  0, 0, 0, 0.03, 0.5,
  1.05, 1.05, 1.2, 0.88, 0.91,
  1.1, 0.95, 0.84, 1.24, 0.99,
  1.13, 1.35, 1.2, 1.24, 0.8,
  1.24, 1.35, 1.46, 1.8, 1.28,
  1.17, 0.95, 1.13, 1.13, 0.99,
  0.95, 0.84, 0.73, 0.66, 0.58,
  0.51, 0.44, 0.62, 0.55, 0.4,
  0.4];
const PURPLE_315 = [0,
  0, 0, 0, 0.03, 0.45,
  0.93, 0.93, 1.06, 0.77, 0.8,
  0.96, 0.83, 0.74, 1.09, 0.86,
  0.99, 1.18, 1.06, 1.09, 0.7,
  1.09, 1.18, 1.28, 1.57, 1.12,
  1.02, 0.83, 0.99, 0.99, 0.86,
  0.83, 0.74, 0.64, 0.58, 0.51,
  0.45, 0.38, 0.54, 0.48, 0.35,
  0.35];
const YELLOW_315 = [0,
  0, 0, 0, 0.03, 0.41,
  0.86, 0.86, 0.97, 0.71, 0.74,
  0.89, 0.77, 0.68, 1.0, 0.8,
  0.91, 1.09, 0.97, 1.0, 0.65,
  1.0, 1.09, 1.18, 1.45, 1.03,
  0.94, 0.77, 0.91, 0.91, 0.8,
  0.77, 0.68, 0.59, 0.53, 0.47,
  0.41, 0.35, 0.5, 0.44, 0.32,
  0.32];
const ORANGE_315 = [0,
  0, 0, 0, 0.03, 0.4,
  0.83, 0.83, 0.94, 0.68, 0.71,
  0.86, 0.74, 0.66, 0.97, 0.77,
  0.88, 1.05, 0.94, 0.97, 0.63,
  0.97, 1.05, 1.14, 1.4, 1.0,
  0.91, 0.74, 0.88, 0.88, 0.77,
  0.74, 0.66, 0.57, 0.51, 0.46,
  0.4, 0.34, 0.48, 0.43, 0.31,
  0.31];
const BLUE_315 = [0,
  0, 0, 0, 0.03, 0.39,
  0.81, 0.81, 0.92, 0.67, 0.7,
  0.84, 0.73, 0.64, 0.95, 0.76,
  0.87, 1.03, 0.92, 0.95, 0.62,
  0.95, 1.03, 1.12, 1.37, 0.98,
  0.9, 0.73, 0.87, 0.87, 0.76,
  0.73, 0.64, 0.56, 0.5, 0.45,
  0.39, 0.34, 0.48, 0.42, 0.31,
  0.31];

// lines per panel, in legend order (0.1 mm ... 2.9 mm)
const PANEL_LINES = [
  [BLUE_0, ORANGE_0, YELLOW_0, PURPLE_0, GREEN_0, CYAN_0, RED_0],
  [BLUE_45, ORANGE_45, YELLOW_45, PURPLE_45, GREEN_45, CYAN_45, RED_45],
  [BLUE_90, ORANGE_90, YELLOW_90, PURPLE_90, GREEN_90, CYAN_90, RED_90],
  [BLUE_135, ORANGE_135, YELLOW_135, PURPLE_135, GREEN_135, CYAN_135, RED_135],
  [BLUE_180, ORANGE_180, YELLOW_180, PURPLE_180, GREEN_180, CYAN_180, RED_180],
  [BLUE_225, ORANGE_225, YELLOW_225, PURPLE_225, GREEN_225, CYAN_225, RED_225],
  [BLUE_270, ORANGE_270, YELLOW_270, PURPLE_270, GREEN_270, CYAN_270, RED_270],
  [BLUE_315, ORANGE_315, YELLOW_315, PURPLE_315, GREEN_315, CYAN_315, RED_315]
];

// layout (px)
const COL_LEFT = [48, 653];
const ROW_TOP = [27, 233, 437, 642];
const PLOT_W = 459;
const PLOT_H = 122;
const LEGEND_POS = [[427, 3], [1036, -1], [423, 208], [1029, 207], [430, 411], [1036, 408], [432, 618], [1036, 619]];

const FONT = "'DejaVu Sans', sans-serif";
const AXIS_COLOR = '#777';
const TEXT_COLOR = '#262626';

const chart = echarts.init(document.getElementById('chart'));

const grids = [];
const xAxes = [];
const yAxes = [];
const series = [];
const legends = [];
const graphics = [];

function txt(x, y, text, size, opts) {
  const o = opts || {};
  return {
    type: 'text', x: x, y: y, rotation: o.rotation || 0, silent: true,
    style: {
      text: text,
      font: (o.bold ? 'bold ' : '') + size + 'px ' + FONT,
      fill: o.color || TEXT_COLOR,
      align: o.align || 'center', textAlign: o.align || 'center',
      verticalAlign: 'middle', textVerticalAlign: 'middle'
    }
  };
}

ANGLES.forEach((angle, i) => {
  const left = COL_LEFT[i % 2];
  const top = ROW_TOP[Math.floor(i / 2)];
  const right = left + PLOT_W;
  const bottom = top + PLOT_H;

  grids.push({
    left: left, top: top, width: PLOT_W, height: PLOT_H,
    show: true, borderColor: AXIS_COLOR, borderWidth: 1, backgroundColor: 'transparent'
  });

  const xBase = {
    type: 'value', gridIndex: i, min: 0, max: X_MAX, interval: 0.2,
    axisLine: { show: false },
    axisTick: { show: true, inside: true, length: 4, lineStyle: { color: AXIS_COLOR } },
    splitLine: { show: false }
  };
  xAxes.push(Object.assign({}, xBase, {
    position: 'bottom',
    axisLabel: { show: true, margin: 7, color: TEXT_COLOR, fontFamily: FONT, fontSize: 15 }
  }));
  // top ticks of the box
  xAxes.push(Object.assign({}, xBase, { position: 'top', axisLabel: { show: false } }));

  yAxes.push({
    type: 'value', gridIndex: i, min: 0, max: Y_MAX[i], interval: 2,
    axisLine: { show: false },
    axisTick: { show: true, inside: true, length: 4, lineStyle: { color: AXIS_COLOR } },
    splitLine: { show: false },
    axisLabel: {
      margin: 5, color: TEXT_COLOR, fontFamily: FONT, fontSize: 15,
      formatter: v => (Math.abs(v / 2 - Math.round(v / 2)) < 1e-6 ? String(v) : '')
    }
  });

  PANEL_LINES[i].forEach((vals, k) => {
    const times = vals.length === TIME_FINE.length ? TIME_FINE : TIME_COARSE;
    series.push({
      type: 'line', name: RADII[k],
      xAxisIndex: 2 * i, yAxisIndex: i,
      data: times.map((t, j) => [t, vals[j]]),
      showSymbol: false, symbol: 'none',
      lineStyle: { color: COLORS[k], width: 1 },
      itemStyle: { color: COLORS[k] },
      emphasis: { disabled: true },
      animation: false
    });
  });

  legends.push({
    orient: 'vertical',
    left: LEGEND_POS[i][0], top: LEGEND_POS[i][1],
    data: RADII,
    icon: 'rect', itemWidth: 61, itemHeight: 1.5, itemGap: 5.2,
    padding: [5, 6, 3, 6],
    backgroundColor: '#fff', borderColor: AXIS_COLOR, borderWidth: 1,
    textStyle: { fontFamily: FONT, fontSize: 13.5, lineHeight: 16, color: '#000' },
    selectedMode: false
  });

  // title, axis names and exponent labels
  graphics.push(txt(left + PLOT_W / 2, top - 11, '230726004-P30/' + angle + ' Degrees', 15.5, { bold: true, color: '#000' }));
  graphics.push(txt(left - 28, top + PLOT_H / 2, 'Frequency (rad/s)', 15.5, { rotation: Math.PI / 2 }));
  graphics.push(txt(left + PLOT_W / 2, bottom + 42, 'time (s)', 15.5));
  graphics.push(txt(left + 1, top - 9, '\u00d710', 14, { align: 'left', color: '#555' }));
  graphics.push(txt(left + 31, top - 14, '8', 11, { align: 'left', color: '#555' }));
  graphics.push(txt(right - 11, bottom + 43, '\u00d710', 14, { align: 'right', color: '#555' }));
  graphics.push(txt(right, bottom + 36, '-4', 11, { align: 'right', color: '#555' }));
});

chart.setOption({
  backgroundColor: '#fff',
  animation: false,
  grid: grids,
  xAxis: xAxes,
  yAxis: yAxes,
  legend: legends,
  series: series,
  graphic: { elements: graphics }
});
</script>
</body>
</html>
